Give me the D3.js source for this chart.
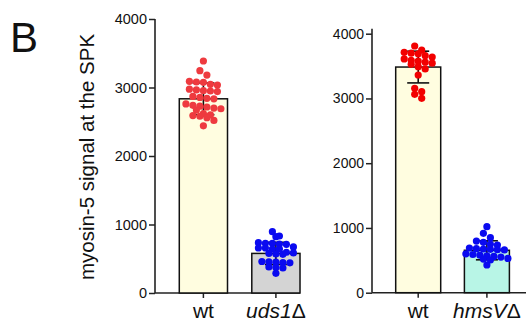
<!DOCTYPE html>
<html>
<head>
<meta charset="utf-8">
<script src="https://cdn.jsdelivr.net/npm/d3@7"></script>
<style>
  body { margin: 0; background: #fff; }
  text { font-family: "Liberation Sans", Arial, sans-serif; fill: #111; }
</style>
</head>
<body>
<svg id="chart" width="527" height="321"></svg>
<script>
// data
const yTicks = [0, 1000, 2000, 3000, 4000];

const leftCategories = ['wt', 'uds1'];
const leftMeans = [2835, 578];
const leftSD = [232, 162];
const leftWt = [3387, 3245, 3182, 3090, 3080, 3076, 3047, 3036, 2975, 2964, 2953, 2949, 2940,
    2870, 2855, 2842, 2835, 2760, 2740, 2728, 2715, 2700, 2690, 2670, 2620, 2600, 2590, 2580,
    2560, 2520, 2440];
const leftUds1 = [895, 832, 822, 734, 725, 725, 715, 711, 672, 657, 657, 642, 642, 595, 585,
    578, 569, 565, 460, 455, 450, 445, 440, 380, 372, 365, 287];

const rightCategories = ['wt', 'hmsV'];
const rightMeans = [3485, 655];
const rightSD = [245, 147];
const rightWt = [3810, 3745, 3712, 3700, 3690, 3660, 3640, 3610, 3590, 3575, 3560, 3545, 3530,
    3490, 3455, 3362, 3157, 3104, 3064, 3002];
const rightHmsV = [1019, 917, 850, 798, 778, 747, 737, 690, 680, 675, 670, 665, 660, 600, 590,
    580, 570, 560, 550, 530, 520, 505, 428];

const svg = d3.select('#chart');

// panel letter
svg.append('text')
    .attr('x', 10).attr('y', 52)
    .style('font-size', '42px')
    .text('B');

// y axis title
svg.append('text')
    .attr('transform', 'translate(94,157) rotate(-90)')
    .attr('text-anchor', 'middle')
    .style('font-size', '20.5px')
    .text('myosin-5 signal at the SPK');

// prism-style scatter: group dots into rows, spread each row evenly around the centre
function scatterRows(values, y, rowH, gap) {
    const pts = values.map(v => ({ y: y(v) })).sort((a, b) => a.y - b.y);
    const rows = [];
    let cur = null;
    pts.forEach(p => {
        if (!cur || p.y - cur.start > rowH) {
            cur = { start: p.y, items: [] };
            rows.push(cur);
        }
        cur.items.push(p);
    });
    rows.forEach(r => {
        const n = r.items.length;
        r.items.forEach((p, k) => { p.x = (k - (n - 1) / 2) * gap; });
    });
    return pts;
}

function drawPanel(cfg) {
    const g = svg.append('g');
    const y = d3.scaleLinear().domain([0, 4000]).range(cfg.yRange);
    const x = d3.scaleBand().domain(cfg.categories).range(cfg.xRange).padding(cfg.padding);

    // y axis
    const yAxis = g.append('g')
        .attr('transform', `translate(${cfg.xRange[0]},0)`)
        .call(d3.axisLeft(y).tickValues(yTicks).tickSize(6).tickPadding(2).tickFormat(d3.format('d')));
    yAxis.select('.domain').remove();
    yAxis.selectAll('line').attr('stroke', '#222').attr('stroke-width', 1.5);
    yAxis.selectAll('text').style('font-size', cfg.tickFont).attr('fill', '#111');
    g.append('line')
        .attr('x1', cfg.xRange[0]).attr('x2', cfg.xRange[0])
        .attr('y1', y(0)).attr('y2', y(4000) - cfg.yExtra)
        .attr('stroke', '#222').attr('stroke-width', 1.6);

    // x axis
    const xAxis = g.append('g')
        .attr('transform', `translate(0,${y(0)})`)
        .call(d3.axisBottom(x).tickSize(5).tickFormat(''));
    xAxis.select('.domain').remove();
    xAxis.selectAll('line').attr('stroke', '#222').attr('stroke-width', 1.5);
    g.append('line')
        .attr('x1', cfg.xRange[0]).attr('x2', cfg.xEnd)
        .attr('y1', y(0)).attr('y2', y(0))
        .attr('stroke', '#222').attr('stroke-width', 1.6);

    // bars
    g.selectAll('rect.bar')
        .data(cfg.categories)
        .join('rect')
        .attr('class', 'bar')
        .attr('x', d => x(d))
        .attr('width', x.bandwidth())
        .attr('y', (d, i) => y(cfg.means[i]))
        .attr('height', (d, i) => y(0) - y(cfg.means[i]))
        .attr('fill', (d, i) => cfg.fills[i])
        .attr('stroke', '#111')
        .attr('stroke-width', 1.5);

    // error bars (mean +/- SD)
    cfg.categories.forEach((c, i) => {
        const cx = x(c) + x.bandwidth() / 2;
        const top = y(cfg.means[i] + cfg.sd[i]);
        const bot = y(cfg.means[i] - cfg.sd[i]);
        const eb = g.append('g').attr('stroke', '#111').attr('stroke-width', 1.6);
        eb.append('line').attr('x1', cx).attr('x2', cx).attr('y1', top).attr('y2', bot);
        eb.append('line').attr('x1', cx - 11).attr('x2', cx + 11).attr('y1', top).attr('y2', top);
        eb.append('line').attr('x1', cx - 11).attr('x2', cx + 11).attr('y1', bot).attr('y2', bot);
    });

    // dots
    cfg.points.forEach((vals, i) => {
        const cx = x(cfg.categories[i]) + x.bandwidth() / 2;
        g.append('g').selectAll('circle')
            .data(scatterRows(vals, y, 5, 7))
            .join('circle')
            .attr('cx', d => cx + d.x)
            .attr('cy', d => d.y)
            .attr('r', 3.6)
            .attr('fill', cfg.dotColors[i]);
    });

    // category labels
    cfg.categories.forEach((c, i) => {
        const t = g.append('text')
            .attr('x', x(c) + x.bandwidth() / 2)
            .attr('y', y(0) + 25)
            .attr('text-anchor', 'middle')
            .style('font-size', '21px');
        if (c === 'wt') {
            t.text('wt');
        } else {
            t.append('tspan').style('font-style', 'italic').text(c);
            t.append('tspan').text('\u0394');
        }
    });
}

drawPanel({
    categories: leftCategories,
    means: leftMeans,
    sd: leftSD,
    points: [leftWt, leftUds1],
    yRange: [293, 19],
    yExtra: 0,
    xRange: [155, 324.3],
    xEnd: 300,
    padding: 0.335,
    tickFont: '14.5px',
    fills: ['#fffde0', '#d4d4d4'],
    dotColors: ['#ee3a3f', '#0a0af0']
});

drawPanel({
    categories: rightCategories,
    means: rightMeans,
    sd: rightSD,
    points: [rightWt, rightHmsV],
    yRange: [292.7, 33.7],
    yExtra: 5,
    xRange: [372, 533.1],
    xEnd: 526,
    padding: 0.345,
    tickFont: '14px',
    fills: ['#fffde0', '#b8f5e6'],
    dotColors: ['#f20000', '#0a0af0']
});
</script>
</body>
</html>
